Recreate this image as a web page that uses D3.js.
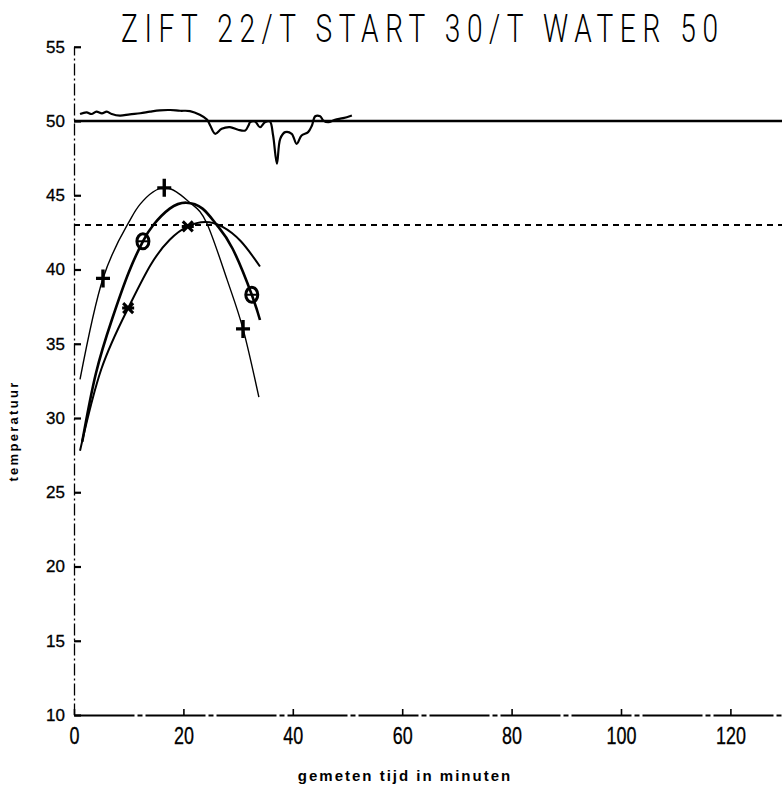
<!DOCTYPE html>
<html><head><meta charset="utf-8">
<script src="https://cdn.jsdelivr.net/npm/d3@7"></script>
<style>html,body{margin:0;padding:0;background:#fff;} svg{display:block;}</style>
</head><body><svg id="c" width="782" height="790"></svg>
<script>
const titleText = "ZIFT 22/T START 30/T WATER 50";
const xLabel = "gemeten tijd in minuten";
const yLabel = "temperatuur";
const xTicks = [0, 20, 40, 60, 80, 100, 120];
const yTicks = [10, 15, 20, 25, 30, 35, 40, 45, 50, 55];
const setpoint = 50;
const target = 43;

const waterTime = [1.1,2.3,3.2,4.1,5.1,6.0,6.9,8.4,10.2,12.1,13.9,15.7,17.6,19.4,21.2,23.0,24.3,24.9,25.8,27.0,28.5,30.0,31.3,31.9,32.2,33.1,34.0,34.9,35.8,36.4,37.1,37.7,38.6,39.8,40.7,41.6,42.8,43.5,44.1,45.0,45.6,46.5,47.7,49.2,50.8];
const waterTemp = [50.47,50.58,50.47,50.63,50.52,50.63,50.47,50.36,50.45,50.52,50.63,50.72,50.74,50.69,50.67,50.42,50.10,49.70,49.14,49.48,49.59,49.41,49.36,49.70,49.92,49.97,49.58,49.92,49.97,49.02,47.12,48.8,49.25,49.14,48.46,49.02,49.25,49.70,50.32,50.32,50.03,49.92,50.08,50.19,50.37];

const fitPlusTime = [1.1,5.3,9.9,12.1,16.5,21.2,24.3,28.0,30.9,33.8];
const fitPlusTemp = [32.6,39.4,43.1,44.4,45.5,44.5,43.1,39.3,36.0,31.4];
const fitCircleTime = [1.5,4.0,7.0,10.0,12.6,14.5,17.5,20.5,23.5,26.1,29.0,32.5,34.0];
const fitCircleTemp = [28.4,33.0,36.7,39.8,41.9,43.0,44.1,44.5,44.1,43.0,41.4,38.3,36.6];
const fitCrossTime = [1.1,5.0,9.9,14.0,17.5,20.8,24.0,27.0,30.5,34.0];
const fitCrossTemp = [27.8,33.3,37.4,40.3,42.0,42.9,43.2,42.9,41.9,40.2];

const plusTime = [5.3, 16.5, 30.9];
const plusTemp = [39.4, 45.5, 36.0];
const circleTime = [12.6, 32.5];
const circleTemp = [41.9, 38.3];
const crossTime = [9.9, 20.8];
const crossTemp = [37.4, 42.9];

const svg = d3.select("#c");
const x = d3.scaleLinear().domain([0, 130]).range([74, 785.1]);
const y = d3.scaleLinear().domain([10, 55]).range([715, 46.75]);

// title
svg.append("text")
  .attr("transform", "translate(121,42) scale(0.72,1)")
  .attr("font-family", "Roboto, 'Liberation Sans', sans-serif")
  .attr("font-weight", 300)
  .attr("font-size", 39)
  .attr("textLength", 597 / 0.72)
  .attr("lengthAdjust", "spacing")
  .attr("fill", "#000")
  .text(titleText);

// y axis
const gy = svg.append("g").attr("transform", `translate(${x(0)},0)`)
  .call(d3.axisLeft(y).tickValues(yTicks).tickFormat(d3.format("d")).tickSizeInner(-7).tickSizeOuter(0).tickPadding(9));
gy.select(".domain").attr("stroke", "#000").attr("stroke-width", 1.3).attr("stroke-dasharray", "12,3,2,3");
gy.selectAll(".tick line").attr("stroke", "#000").attr("stroke-width", 2.2);
gy.selectAll(".tick text").attr("font-family", "Liberation Sans, Arial, sans-serif").attr("font-size", 17)
  .attr("fill", "#000").attr("stroke", "#000").attr("stroke-width", 0.3);

// x axis
const gx = svg.append("g").attr("transform", `translate(0,${y(10)})`)
  .call(d3.axisBottom(x).tickValues(xTicks).tickFormat(d3.format("d")).tickSizeInner(-6).tickSizeOuter(0).tickPadding(13));
gx.select(".domain").attr("stroke", "#000").attr("stroke-width", 1.8).attr("stroke-dasharray", "60,3,5,3");
gx.selectAll(".tick line").attr("stroke", "#000").attr("stroke-width", 1.6);
gx.selectAll(".tick text").attr("font-family", "Liberation Sans, Arial, sans-serif").attr("font-size", 23)
  .attr("transform", "scale(0.78,1)").attr("fill", "#000").attr("stroke", "#000").attr("stroke-width", 0.3);

// axis labels
svg.append("text").attr("x", 405).attr("y", 781).attr("text-anchor", "middle")
  .attr("font-family", "Liberation Sans, Arial, sans-serif").attr("font-weight", "bold")
  .attr("font-size", 15).attr("letter-spacing", 2).attr("fill", "#000").text(xLabel);
svg.append("text").attr("transform", "translate(18,431) rotate(-90)").attr("text-anchor", "middle")
  .attr("font-family", "Liberation Sans, Arial, sans-serif").attr("font-weight", "bold")
  .attr("font-size", 13).attr("letter-spacing", 2.3).attr("fill", "#000").text(yLabel);

// reference lines
svg.append("line").attr("x1", x(0)).attr("x2", 782).attr("y1", y(setpoint)).attr("y2", y(setpoint))
  .attr("stroke", "#000").attr("stroke-width", 2.6);
svg.append("line").attr("x1", x(0)).attr("x2", 782).attr("y1", y(target)).attr("y2", y(target))
  .attr("stroke", "#000").attr("stroke-width", 2).attr("stroke-dasharray", "6,5");

function pts(ts, vs) { return ts.map((t, i) => [t, vs[i]]); }
const line = d3.line().x(d => x(d[0])).y(d => y(d[1]));

svg.append("path").datum(pts(waterTime, waterTemp))
  .attr("d", line.curve(d3.curveCatmullRom.alpha(0.5)))
  .attr("fill", "none").attr("stroke", "#000").attr("stroke-width", 2.2).attr("stroke-linejoin", "round");

const smooth = d3.line().x(d => x(d[0])).y(d => y(d[1])).curve(d3.curveNatural);
svg.append("path").datum(pts(fitPlusTime, fitPlusTemp)).attr("d", smooth)
  .attr("fill", "none").attr("stroke", "#000").attr("stroke-width", 1.4);
svg.append("path").datum(pts(fitCircleTime, fitCircleTemp)).attr("d", smooth)
  .attr("fill", "none").attr("stroke", "#000").attr("stroke-width", 2.6);
svg.append("path").datum(pts(fitCrossTime, fitCrossTemp)).attr("d", smooth)
  .attr("fill", "none").attr("stroke", "#000").attr("stroke-width", 2);

// markers
svg.selectAll(".plus").data(pts(plusTime, plusTemp)).enter().append("path")
  .attr("transform", d => `translate(${x(d[0])},${y(d[1])})`)
  .attr("d", "M-7,0H7M0,-9V9").attr("stroke", "#000").attr("stroke-width", 3.4).attr("fill", "none");
const circ = svg.selectAll(".circ").data(pts(circleTime, circleTemp)).enter().append("g")
  .attr("transform", d => `translate(${x(d[0])},${y(d[1])})`);
circ.append("ellipse").attr("rx", 6).attr("ry", 7.5).attr("fill", "none").attr("stroke", "#000").attr("stroke-width", 3);
circ.append("path").attr("d", "M-5,0H5").attr("stroke", "#000").attr("stroke-width", 2);
svg.selectAll(".cross").data(pts(crossTime, crossTemp)).enter().append("path")
  .attr("transform", d => `translate(${x(d[0])},${y(d[1])})`)
  .attr("d", "M-5,-5L5,5M5,-5L-5,5M-6,0H6").attr("stroke", "#000").attr("stroke-width", 3).attr("fill", "none");
</script></body></html>
